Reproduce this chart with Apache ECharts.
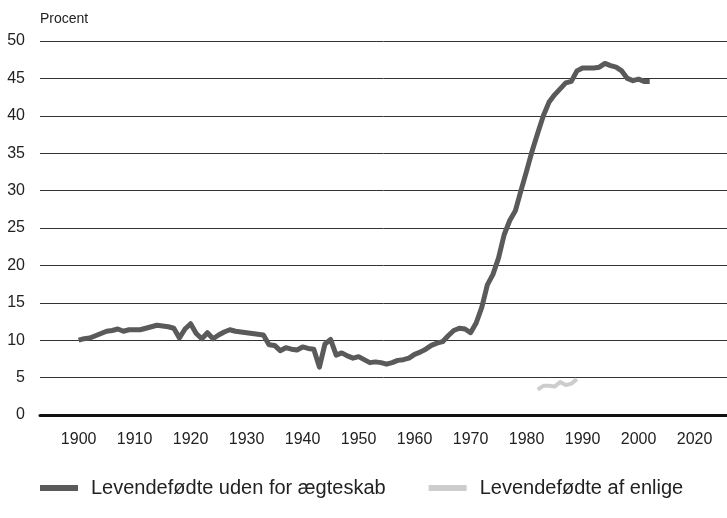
<!DOCTYPE html>
<html>
<head>
<meta charset="utf-8">
<script src="https://cdn.jsdelivr.net/npm/echarts@6/dist/echarts.min.js"></script>
<style>
  html, body { margin: 0; padding: 0; background: #fff; }
</style>
</head>
<body>
<div id="chart" style="width: 727px; height: 518px;"></div>
<script>
// tick labels as printed on the original (last one really reads 2020)
const tickYears = [1900, 1910, 1920, 1930, 1940, 1950, 1960, 1970, 1980, 1990, 2000, 2010];
const tickLabels = ['1900', '1910', '1920', '1930', '1940', '1950', '1960', '1970', '1980', '1990', '2000', '2020'];

const seriesNames = ['Levendefødte uden for ægteskab', 'Levendefødte af enlige'];

// procent, one value per year from 1900
const udenStart = 1900;
const udenValues = [
  10.0, 10.2, 10.3, 10.6, 10.9, 11.2, 11.3, 11.5, 11.2, 11.4,
  11.4, 11.4, 11.6, 11.8, 12.0, 11.9, 11.8, 11.6, 10.3, 11.5,
  12.2, 10.9, 10.2, 11.0, 10.2, 10.7, 11.1, 11.4, 11.2, 11.1,
  11.0, 10.9, 10.8, 10.7, 9.4, 9.3, 8.6, 9.0, 8.8, 8.7,
  9.1, 8.9, 8.8, 6.4, 9.5, 10.1, 8.0, 8.3, 7.9, 7.6,
  7.8, 7.4, 7.0, 7.1, 7.0, 6.8, 7.0, 7.3, 7.4, 7.6,
  8.1, 8.4, 8.8, 9.3, 9.6, 9.8, 10.6, 11.3, 11.6, 11.5,
  11.0, 12.3, 14.4, 17.4, 18.8, 21.0, 24.1, 26.0, 27.3, 30.0,
  32.6, 35.3, 37.7, 40.0, 41.8, 42.8, 43.6, 44.4, 44.6, 46.0,
  46.4, 46.4, 46.4, 46.5, 47.0, 46.7, 46.5, 46.0, 45.0, 44.7,
  44.9, 44.6, 44.6
];

const enligeStart = 1982;
const enligeValues = [3.4, 3.9, 3.9, 3.8, 4.4, 4.0, 4.2, 4.8];

const toPairs = (start, values) => values.map((v, i) => [start + i, v]);

const font = 'Liberation Sans';
const myChart = echarts.init(document.getElementById('chart'));

const option = {
  animation: false,
  textStyle: { fontFamily: font },
  title: {
    text: 'Procent',
    left: 35,
    top: 7,
    textStyle: { fontFamily: font, fontSize: 14, fontWeight: 'normal', color: '#222' }
  },
  grid: {
    left: 40,
    right: 0,
    top: 41,
    bottom: 103
  },
  legend: {
    left: 35,
    top: 473,
    itemWidth: 38,
    itemHeight: 6,
    itemGap: 43,
    icon: 'rect',
    textStyle: { fontFamily: font, fontSize: 20, color: '#222', padding: [0, 0, 0, 8] },
    data: seriesNames
  },
  xAxis: {
    type: 'value',
    min: 1893.1,
    max: 2015.8,
    axisLine: { show: true, onZero: true, lineStyle: { color: '#111', width: 3 } },
    axisTick: { show: false },
    splitLine: { show: false },
    axisLabel: {
      customValues: tickYears,
      margin: 17,
      fontSize: 16,
      color: '#222',
      formatter: (v) => tickLabels[tickYears.indexOf(Math.round(v))]
    }
  },
  yAxis: {
    type: 'value',
    min: 0,
    max: 50,
    interval: 5,
    axisLine: { show: false },
    axisTick: { show: false },
    axisLabel: { margin: 15, fontSize: 16, color: '#222' },
    splitLine: { lineStyle: { color: '#333', width: 1 } }
  },
  series: [
    {
      name: seriesNames[0],
      type: 'line',
      showSymbol: false,
      itemStyle: { color: '#5a5a5a' },
      lineStyle: { color: '#5a5a5a', width: 5, join: 'round' },
      data: toPairs(udenStart, udenValues),
      z: 3
    },
    {
      name: seriesNames[1],
      type: 'line',
      showSymbol: false,
      itemStyle: { color: '#cdcdcd' },
      lineStyle: { color: '#cdcdcd', width: 4, join: 'round' },
      data: toPairs(enligeStart, enligeValues),
      z: 2
    }
  ]
};

myChart.setOption(option);
</script>
</body>
</html>
